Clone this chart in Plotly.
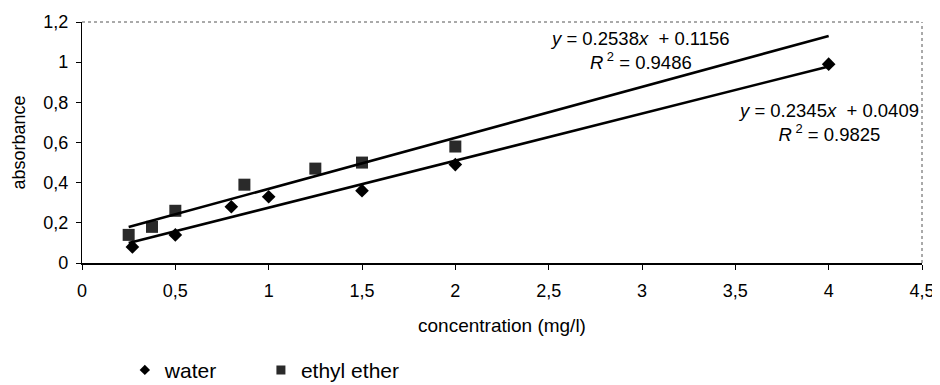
import plotly.graph_objects as go

water_x = [0.27, 0.5, 0.8, 1.0, 1.5, 2.0, 4.0]
water_y = [0.08, 0.14, 0.28, 0.33, 0.36, 0.49, 0.99]
ether_x = [0.25, 0.375, 0.5, 0.87, 1.25, 1.5, 2.0]
ether_y = [0.14, 0.18, 0.26, 0.39, 0.47, 0.50, 0.58]

water_fit = (0.2345, 0.0409)
ether_fit = (0.2538, 0.1156)
fit_x_range = [0.25, 4.0]

x_ticks = [0, 0.5, 1, 1.5, 2, 2.5, 3, 3.5, 4, 4.5]
y_ticks = [0, 0.2, 0.4, 0.6, 0.8, 1.0, 1.2]

FONT = "Liberation Sans, Arial, sans-serif"

fig = go.Figure()
fig.add_trace(go.Scatter(x=water_x, y=water_y, mode="markers", name="water", showlegend=False,
                         marker=dict(symbol="diamond", size=10.5, color="black")))
fig.add_trace(go.Scatter(x=ether_x, y=ether_y, mode="markers", name="ethyl ether", showlegend=False,
                         marker=dict(symbol="square", size=12, color="#2a2a2a")))
for (m, c) in [water_fit, ether_fit]:
    fig.add_trace(go.Scatter(x=fit_x_range, y=[m * v + c for v in fit_x_range],
                             mode="lines", line=dict(color="black", width=2.6),
                             showlegend=False, hoverinfo="skip"))
# legend entries (smaller symbols, as in the reference legend)
fig.add_trace(go.Scatter(x=[None], y=[None], mode="markers", name="water", legend="legend",
                         marker=dict(symbol="diamond", size=8, color="black")))
fig.add_trace(go.Scatter(x=[None], y=[None], mode="markers", name="ethyl ether", legend="legend2",
                         marker=dict(symbol="square", size=9, color="#2a2a2a")))

# dotted top/right frame
fig.add_shape(type="line", xref="paper", yref="paper", x0=0, x1=1, y0=1, y1=1,
              line=dict(color="#555", width=1, dash="dot"))
fig.add_shape(type="line", xref="paper", yref="paper", x0=1, x1=1, y0=0, y1=1,
              line=dict(color="#555", width=1, dash="dot"))

ann_font = dict(family=FONT, size=18.5, color="black")
fig.add_annotation(x=2.99, y=1.058, xref="x", yref="y", showarrow=False, font=ann_font,
                   text="<i>y</i> = 0.2538<i>x</i>  + 0.1156<br><i>R</i><sup> 2</sup> = 0.9486",
                   align="center")
fig.add_annotation(x=4.0, y=0.70, xref="x", yref="y", showarrow=False, font=ann_font,
                   text="<i>y</i> = 0.2345<i>x</i>  + 0.0409<br><i>R</i><sup> 2</sup> = 0.9825",
                   align="center")

legend_common = dict(orientation="h", y=-0.445, xanchor="left", yanchor="middle",
                     font=dict(family=FONT, size=21), bgcolor="rgba(0,0,0,0)")

# the page adds an 8px body margin, so the figure is sized to sit in 940x385
fig.update_layout(
    width=932, height=377,
    margin=dict(l=74, r=18, t=14, b=122, autoexpand=False),
    paper_bgcolor="white", plot_bgcolor="white",
    separators=",.",
    font=dict(family=FONT, size=18, color="black"),
    showlegend=True,
    legend=dict(x=0.051, **legend_common),
    legend2=dict(x=0.213, **legend_common),
    xaxis=dict(range=[0, 4.5], tickvals=x_ticks, showgrid=False, zeroline=False,
               showline=True, linecolor="black", linewidth=1.5, automargin=False,
               ticks="outside", ticklen=5, tickcolor="black", ticklabelstandoff=6,
               tickfont=dict(size=18),
               title=dict(text="concentration (mg/l)", font=dict(size=19), standoff=18)),
    yaxis=dict(range=[0, 1.2], tickvals=y_ticks, showgrid=False, zeroline=False,
               showline=True, linecolor="black", linewidth=1.2, automargin=False,
               ticks="outside", ticklen=5, tickcolor="black", ticklabelstandoff=4,
               tickfont=dict(size=18),
               title=dict(text="absorbance", font=dict(size=18), standoff=12)),
)

fig.write_html("out.html")
